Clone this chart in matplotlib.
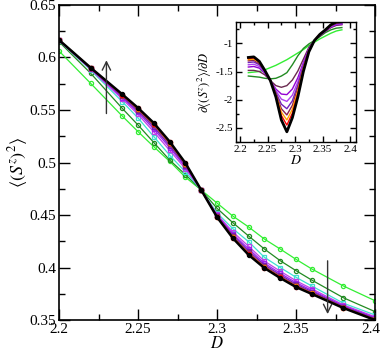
import numpy as np
import matplotlib
matplotlib.use('Agg')
from matplotlib import pyplot as plt
from matplotlib.ticker import MultipleLocator
from matplotlib.transforms import ScaledTranslation

plt.rcParams['font.family'] = 'serif'
plt.rcParams['font.serif'] = ['Liberation Serif', 'DejaVu Serif']
plt.rcParams['mathtext.fontset'] = 'stix'


# main panel: <(S^z)^2> vs D, one curve per system
D = [2.20, 2.22, 2.24, 2.25, 2.26, 2.27, 2.28, 2.29, 2.30, 2.31, 2.32, 2.33, 2.34, 2.35, 2.36, 2.38, 2.40]

sz_green = [0.6062, 0.5754, 0.5443, 0.5294, 0.5150, 0.5011, 0.4860, 0.4738, 0.4614, 0.4490, 0.4386, 0.4271, 0.4176, 0.4078, 0.3986, 0.3824, 0.3684]
sz_green4 = [0.6150, 0.5850, 0.5516, 0.5357, 0.5190, 0.5024, 0.4885, 0.4738, 0.4564, 0.4427, 0.4300, 0.4176, 0.4065, 0.3970, 0.3880, 0.3712, 0.3580]
sz_turq = [0.6160, 0.5880, 0.5580, 0.5424, 0.5246, 0.5070, 0.4910, 0.4738, 0.4520, 0.4370, 0.4246, 0.4097, 0.4000, 0.3907, 0.3824, 0.3660, 0.3548]
sz_violet = [0.6162, 0.5888, 0.5605, 0.5458, 0.5292, 0.5116, 0.4940, 0.4738, 0.4506, 0.4339, 0.4202, 0.4061, 0.3965, 0.3874, 0.3797, 0.3644, 0.3531]
sz_purple = [0.6164, 0.5893, 0.5619, 0.5477, 0.5318, 0.5142, 0.4957, 0.4738, 0.4498, 0.4320, 0.4177, 0.4041, 0.3945, 0.3856, 0.3782, 0.3635, 0.3522]
sz_indigo = [0.6165, 0.5896, 0.5629, 0.5491, 0.5337, 0.5161, 0.4970, 0.4738, 0.4492, 0.4307, 0.4158, 0.4026, 0.3930, 0.3842, 0.3771, 0.3628, 0.3514]
sz_maroon = [0.6166, 0.5899, 0.5637, 0.5503, 0.5353, 0.5177, 0.4980, 0.4738, 0.4487, 0.4296, 0.4143, 0.4013, 0.3918, 0.3831, 0.3762, 0.3622, 0.3509]
sz_orange = [0.6166, 0.5901, 0.5643, 0.5510, 0.5363, 0.5187, 0.4987, 0.4738, 0.4484, 0.4289, 0.4133, 0.4005, 0.3910, 0.3823, 0.3756, 0.3619, 0.3505]
sz_red = [0.6167, 0.5902, 0.5647, 0.5515, 0.5370, 0.5194, 0.4991, 0.4738, 0.4482, 0.4285, 0.4127, 0.4000, 0.3905, 0.3819, 0.3752, 0.3617, 0.3502]
sz_black = [0.6167, 0.5903, 0.5650, 0.5520, 0.5376, 0.5200, 0.4995, 0.4738, 0.4480, 0.4280, 0.4120, 0.3995, 0.3900, 0.3814, 0.3748, 0.3614, 0.3500]

# inset: derivative d<(S^z)^2>/dD
D_inset = [2.215, 2.225, 2.235, 2.245, 2.255, 2.265, 2.275, 2.285, 2.295, 2.305, 2.315, 2.325, 2.335, 2.345, 2.355, 2.365, 2.375, 2.385]

dsz_green = [-1.52, -1.51, -1.50, -1.47, -1.43, -1.39, -1.34, -1.29, -1.23, -1.17, -1.11, -1.04, -0.98, -0.92, -0.87, -0.82, -0.78, -0.76]
dsz_green4 = [-1.58, -1.59, -1.60, -1.62, -1.63, -1.62, -1.58, -1.52, -1.38, -1.22, -1.09, -1.01, -0.95, -0.88, -0.81, -0.76, -0.73, -0.72]
dsz_maroon = [-1.48, -1.48, -1.50, -1.56, -1.66, -1.75, -1.78, -1.75, -1.65, -1.49, -1.28, -1.07, -0.95, -0.87, -0.79, -0.72, -0.68, -0.67]
dsz_purple = [-1.42, -1.41, -1.44, -1.53, -1.66, -1.81, -1.90, -1.91, -1.81, -1.61, -1.34, -1.09, -0.95, -0.86, -0.78, -0.71, -0.67, -0.66]
dsz_violet = [-1.38, -1.37, -1.41, -1.51, -1.66, -1.84, -1.99, -2.03, -1.92, -1.68, -1.37, -1.10, -0.95, -0.85, -0.77, -0.70, -0.66, -0.65]
dsz_indigo = [-1.34, -1.33, -1.38, -1.50, -1.66, -1.87, -2.08, -2.16, -2.02, -1.74, -1.40, -1.11, -0.95, -0.85, -0.77, -0.69, -0.65, -0.64]
dsz_maroon2 = [-1.31, -1.30, -1.36, -1.49, -1.66, -1.89, -2.16, -2.27, -2.10, -1.79, -1.43, -1.12, -0.95, -0.84, -0.76, -0.68, -0.64, -0.63]
dsz_orange = [-1.29, -1.28, -1.34, -1.48, -1.66, -1.91, -2.22, -2.36, -2.17, -1.84, -1.45, -1.13, -0.95, -0.84, -0.76, -0.68, -0.63, -0.62]
dsz_red = [-1.27, -1.26, -1.33, -1.48, -1.66, -1.93, -2.28, -2.45, -2.24, -1.89, -1.47, -1.14, -0.95, -0.84, -0.76, -0.67, -0.63, -0.62]
dsz_black = [-1.25, -1.24, -1.32, -1.48, -1.66, -1.95, -2.36, -2.57, -2.32, -1.95, -1.50, -1.15, -0.95, -0.84, -0.76, -0.67, -0.62, -0.61]

main_series = [sz_green, sz_green4, sz_turq, sz_violet, sz_purple, sz_indigo, sz_maroon, sz_orange, sz_red, sz_black]
main_colors = ['#33ee33', '#228b22', '#40e0d0', '#c040e8', '#a020f0', '#7221bc', '#8b2a70', '#ff8c00', '#ff0000', '#000000']
main_markers = ['o', 'o', 's', 's', 's', 's', 's', 'o', 'o', 'o']

inset_series = [dsz_green, dsz_green4, dsz_maroon, dsz_purple, dsz_violet, dsz_indigo, dsz_maroon2, dsz_orange, dsz_red, dsz_black]
inset_colors = ['#33ee33', '#228b22', '#6b2a50', '#9400d3', '#b040f0', '#7221bc', '#8b2252', '#ffa500', '#ff0000', '#000000']


def style_ticks(ax, size_major, size_minor, labelsize):
    ax.tick_params(which='both', direction='in', top=True, right=True, labelsize=labelsize, width=1.0)
    ax.tick_params(which='major', length=size_major)
    ax.tick_params(which='minor', length=size_minor)


def main():
    fig = plt.figure(figsize=(3.82, 3.54), dpi=100)
    ax = fig.add_axes([0.1545, 0.096, 0.8272, 0.8899])

    for ys, c, m in zip(main_series, main_colors, main_markers):
        is_black = c == '#000000'
        ax.plot(D, ys, color=c, lw=1.8 if is_black else 0.9, marker=m, ms=3.0,
                mfc=c if is_black else 'none', mec=c, mew=0.9, zorder=3 if is_black else 2)

    ax.set_xlim(2.2, 2.4)
    ax.set_ylim(0.35, 0.65)
    ax.xaxis.set_minor_locator(MultipleLocator(0.025))
    ax.yaxis.set_minor_locator(MultipleLocator(0.025))
    ax.set_xticks([2.2, 2.25, 2.3, 2.35, 2.4])
    ax.set_xticklabels(['2.2', '2.25', '2.3', '2.35', '2.4'])
    ax.set_yticks([0.35, 0.4, 0.45, 0.5, 0.55, 0.6, 0.65])
    ax.set_yticklabels(['0.35', '0.4', '0.45', '0.5', '0.55', '0.6', '0.65'])
    style_ticks(ax, 8, 4, 11)
    ax.tick_params(axis='x', pad=2)
    ax.tick_params(axis='y', pad=2)
    # keep the last x label inside the figure
    last = ax.get_xticklabels()[-1]
    last.set_transform(last.get_transform() + ScaledTranslation(-4 / 100, 0, fig.dpi_scale_trans))
    for s in ax.spines.values():
        s.set_linewidth(1.2)
    ax.set_xlabel(r'$D$', fontsize=12, labelpad=0.5)
    ax.set_ylabel(r'$\langle(S^z)^2\rangle$', fontsize=13, labelpad=0)

    # arrows showing increasing system size
    ax.annotate('', xy=(2.23, 0.600), xytext=(2.23, 0.544),
                arrowprops=dict(arrowstyle='->,head_length=0.6,head_width=0.3', color='#333333', lw=1.0))
    ax.annotate('', xy=(2.37, 0.353), xytext=(2.37, 0.409),
                arrowprops=dict(arrowstyle='->,head_length=0.6,head_width=0.3', color='#333333', lw=1.0))

    # inset
    ins = fig.add_axes([0.617, 0.599, 0.314, 0.339])
    for ys, c in zip(inset_series, inset_colors):
        is_black = c == '#000000'
        ins.plot(D_inset, ys, color=c, lw=2.0 if is_black else 1.0, zorder=3 if is_black else 2)
    ins.set_xlim(2.192, 2.41)
    ins.set_ylim(-2.75, -0.62)
    ins.set_xticks([2.2, 2.25, 2.3, 2.35, 2.4])
    ins.set_xticklabels(['2.2', '2.25', '2.3', '2.35', '2.4'])
    ins.xaxis.set_minor_locator(MultipleLocator(0.025))
    ins.set_yticks([-2.5, -2, -1.5, -1])
    ins.set_yticklabels(['-2.5', '-2', '-1.5', '-1'])
    ins.yaxis.set_minor_locator(MultipleLocator(0.25))
    style_ticks(ins, 4, 2, 8)
    ins.tick_params(pad=2)
    for s in ins.spines.values():
        s.set_linewidth(1.0)
    ins.set_xlabel(r'$D$', fontsize=10, labelpad=0)
    ins.set_ylabel(r'$\partial\langle(S^z)^2\rangle/\partial D$', fontsize=9, labelpad=1)

    fig.savefig('out.png', dpi=100)


if __name__ == '__main__':
    main()
